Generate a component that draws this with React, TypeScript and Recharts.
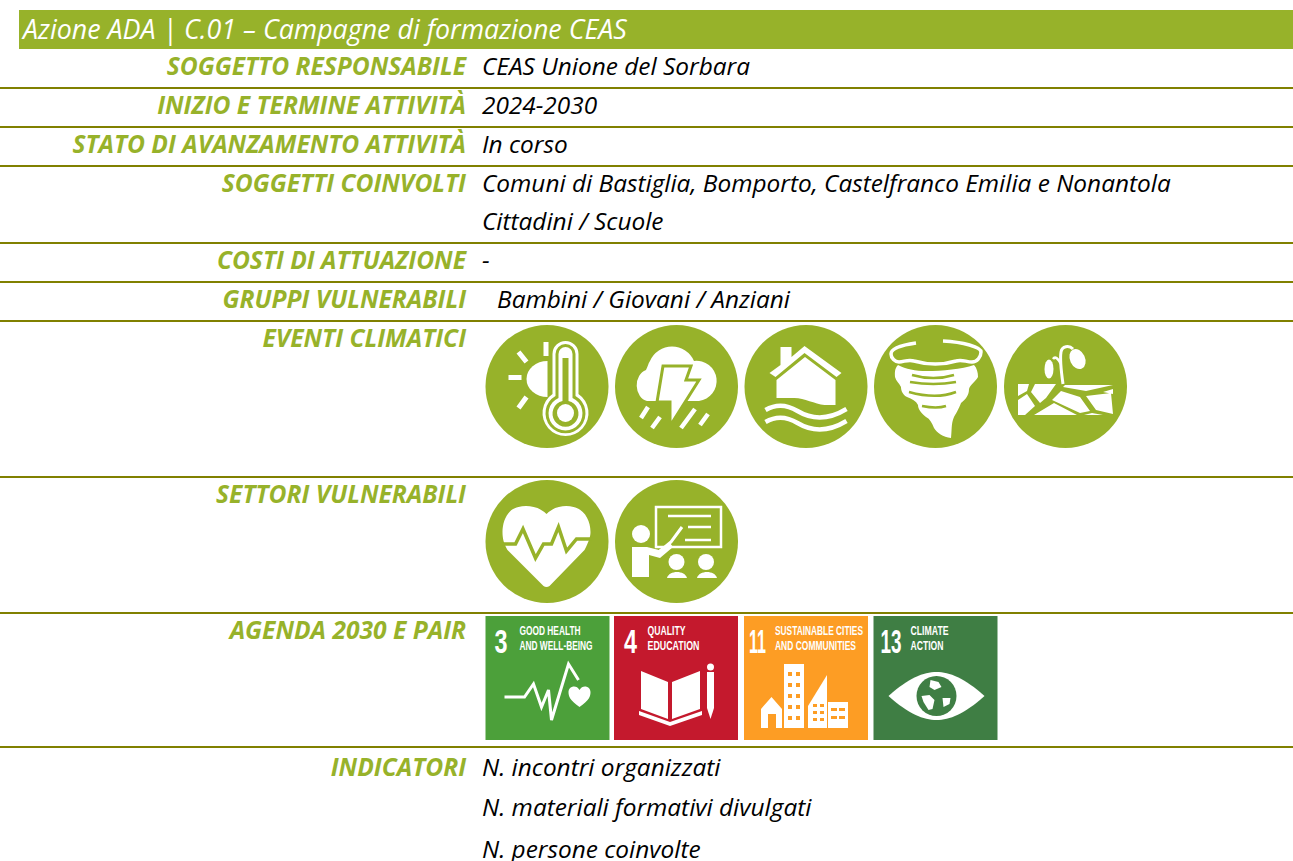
import React from 'react';
import { ComposedChart, XAxis, YAxis, Scatter, ReferenceArea, ReferenceLine } from 'recharts';

const title = 'Azione ADA | C.01 – Campagne di formazione CEAS';
const rowLabels = [
  'SOGGETTO RESPONSABILE',
  'INIZIO E TERMINE ATTIVITÀ',
  'STATO DI AVANZAMENTO ATTIVITÀ',
  'SOGGETTI COINVOLTI',
  'COSTI DI ATTUAZIONE',
  'GRUPPI VULNERABILI',
  'EVENTI CLIMATICI',
  'SETTORI VULNERABILI',
  'AGENDA 2030 E PAIR',
  'INDICATORI',
];
const rowValues = [
  'CEAS Unione del Sorbara',
  '2024-2030',
  'In corso',
  'Comuni di Bastiglia, Bomporto, Castelfranco Emilia e Nonantola',
  'Cittadini / Scuole',
  '-',
  'Bambini / Giovani / Anziani',
  'N. incontri organizzati',
  'N. materiali formativi divulgati',
  'N. persone coinvolte',
];
const climateIcons = ['heat', 'storm', 'flood', 'tornado', 'drought'];
const sectorIcons = ['health', 'education'];
const sdgNumbers = ['3', '4', '11', '13'];
const sdgTitles = [
  ['GOOD HEALTH', 'AND WELL-BEING'],
  ['QUALITY', 'EDUCATION'],
  ['SUSTAINABLE CITIES', 'AND COMMUNITIES'],
  ['CLIMATE', 'ACTION'],
];
const sdgIcons = ['pulse', 'book', 'city', 'eye'];

// page layout, in pixels of the picture
const W = 1293;
const H = 861;
const labelY = [67, 106, 145, 184, 261, 300, 339, 495, 631, 768];
const valueY = [67, 106, 145, 184, 222, 261, 300, 768, 808, 850];
const valueX = [482, 482, 482, 482, 482, 482, 497, 482, 482, 482];
const ruleY = [88, 127, 166, 243, 282, 321, 477, 613, 747];
const iconX = [547, 676.5, 806, 935.5, 1065.5];
const sdgX = [547.5, 676, 806, 935.5];
const sdgColors = ['#4ca03a', '#c4192d', '#fd9d24', '#3f7e44'];
const sdgNumberBox = [[9, 13], [10, 13], [5, 17], [7, 21]];
const sdgTextX = [34, 33.5, 31, 37];
const sdgTextWidths = [[61, 73], [38, 52], [88, 81], [38, 33]];

const GREEN = '#97b22a';
const OLIVE = '#808000';
const FONT = "'Open Sans', sans-serif";
const TILE_FONT = "'Liberation Sans Narrow', 'Liberation Sans', sans-serif";

const titleData = [{ x: 23, y: 30, text: title }];
const labelData = rowLabels.map((text, i) => ({ x: 466, y: labelY[i], text }));
const valueData = rowValues.map((text, i) => ({ x: valueX[i], y: valueY[i], text }));
const climateData = climateIcons.map((icon, i) => ({ x: iconX[i], y: 386.5, icon }));
const sectorData = sectorIcons.map((icon, i) => ({ x: iconX[i], y: 541.5, icon }));
const sdgData = sdgNumbers.map((num, i) => ({
  x: sdgX[i], y: 678, i, num, lines: sdgTitles[i], icon: sdgIcons[i], color: sdgColors[i],
}));

const Title = ({ cx, cy, payload }: any) => (
  <text x={cx} y={cy + 8.5} fontFamily={FONT} fontStyle="italic" fontSize={26.8} fill="#fff">
    {payload.text}
  </text>
);

const Label = ({ cx, cy, payload }: any) => (
  <text x={cx} y={cy + 8} textAnchor="end" fontFamily={FONT} fontStyle="italic" fontWeight={700} fontSize={24.6} fill={GREEN}>
    {payload.text}
  </text>
);

const Value = ({ cx, cy, payload }: any) => (
  <text x={cx} y={cy + 8} fontFamily={FONT} fontStyle="italic" fontSize={24.4} fill="#000">
    {payload.text}
  </text>
);

const glyphs: Record<string, React.ReactNode> = {
  heat: (
    <g>
      <path d="M62 36a21 18 0 0 0 0 36z" fill="#fff" />
      <path d="M58 17h5v14h-5zM23 50h13v5H23z" fill="#fff" />
      <path d="M33 27l8 10M41 72l-8 11" stroke="#fff" strokeWidth={5} />
      <path d="M67 69V29a13 13 0 0 1 26 0v40a23 23 0 1 1-26 0z" fill="#fff" />
      <path d="M70 71V29a10 10 0 0 1 20 0v42a20 20 0 1 1-20 0z" fill={GREEN} />
      <path d="M73 73V29a7 7 0 0 1 14 0v44a17 17 0 1 1-14 0z" fill="#fff" />
      <path d="M77 76V33h6v43a13 13 0 1 1-6 0z" fill={GREEN} />
      <ellipse cx={80} cy={88} rx={8.500} ry={9} fill="#fff" />
    </g>
  ),
  storm: (
    <g>
      <path d="M32 76a13 16 0 0 1-1-31c2-4 2-6 4-9a24 24 0 0 1 44 0 20 20 0 0 1 5 40z" fill="#fff" />
      <path d="M48 41h28l-5 14h13L55 101V77H42z" fill="#fff" stroke={GREEN} strokeWidth={3} />
      <path d="M33 82l-7 11M45 92l-8 11M80 84l-14 19M93 89l-8 11" stroke="#fff" strokeWidth={4.500} />
    </g>
  ),
  flood: (
    <g>
      <path d="M25 48l11-8V22h11v10l13-11 37 27-5 4-32-24-29 24z" fill="#fff" />
      <path d="M32 55L60.500 32 91 55v25h-11c-10-1-20-7-30-7H32z" fill="#fff" />
      <path d="M21 85c12-7 22-5 32 1s26 12 49-2M21 97c12-7 22-5 32 1s26 12 49-2" stroke="#fff" strokeWidth={4.500} fill="none" />
    </g>
  ),
  tornado: (
    <g>
      <path d="M42 18C28 20 17 23 17 29c0 4 4 8 8 8 5 0 9-3 15-1 14 4 29 4 42 0 6-2 10 1 16 1 5 0 9-5 9-10 0-5-18-10-38-11" stroke="#fff" strokeWidth={3.500} fill="none" />
      <path d="M24 40c-4 4-3 9-3 12 1 4 4 6 6 10 0 4 2 8 6 10 5 2 9 4 11 8 0 4 3 8 8 12 4 2 6 6 8 11 3 5 9 9 17 10 1-8 0-14 3-21 3-5 6-11 7-14 5-4 8-8 8-14 1-4 7-8 9-12 0-4-1-9-4-12-12 4-32 6-47 6-12 0-21-2-29-6z" fill="#fff" />
      <path d="M38 50c14 4 29 4 42 0M36 57c17 3 30 3 46 0M35 67c18 5 34 5 47 0M48 81c10 2 18 2 24 0" stroke={GREEN} strokeWidth={2.500} fill="none" />
    </g>
  ),
  drought: (
    <g>
      <path d="M59 59c-2-14-3-26-2-32 1-6 8-7 12-3" stroke="#fff" strokeWidth={3} fill="none" />
      <path d="M57 39c-3-6-6-8-8-5" stroke="#fff" strokeWidth={2.500} fill="none" />
      <ellipse cx={73.500} cy={34} rx={7.500} ry={10.500} transform="rotate(-25 73.500 34)" fill="#fff" />
      <ellipse cx={45} cy={44} rx={4.500} ry={9.500} fill="#fff" />
      <path d="M14 59h11l-2 7-9 5zM14 75l9-6 8 12-10 9h-7zM31 59h21L42 73l-6 5-9-11zM30 90l20-12 23 12zM61 60h48l-27 6-23-4zM57 66l19 6 10 14-10 2-28-13zM82 71l25-3 2 21-17-4zM99 67l10-3v5zM80 90h19l-11-2z" fill="#fff" />
    </g>
  ),
  health: (
    <g>
      <path d="M61 34C53 26 41 25 33 27 22 29 17 41 17 52c0 6 1 11 5 18l36 36q3 2 6 0l35-36c4-8 6-13 6-18 0-11-6-23-17-25C80 25 69 26 61 34z" fill="#fff" />
      <path d="M15 64h15l7.500-15L50 78l8-14h8l7-17 8 24 10-12h16" stroke={GREEN} strokeWidth={3.500} fill="none" />
    </g>
  ),
  education: (
    <g>
      <rect x={41} y={27} width={65} height={40} fill="none" stroke="#fff" strokeWidth={2.500} />
      <path d="M53 36h43M73 47h23M70 60h26" stroke="#fff" strokeWidth={2.500} />
      <path d="M67 47l-11 15-11 9" stroke="#fff" strokeWidth={3} fill="none" />
      <circle cx={26} cy={54} r={9} fill="#fff" />
      <path d="M17 67h15l12 3 11-7 3 4-13 11-11-3v22H17z" fill="#fff" />
      <circle cx={61.500} cy={82} r={8} fill="#fff" />
      <circle cx={91} cy={82} r={8} fill="#fff" />
      <path d="M52 98c2-8 18-8 20 0zM82 98c2-8 18-8 20 0z" fill="#fff" />
    </g>
  ),
};

const Medallion = ({ cx, cy, payload }: any) => (
  <g transform={`translate(${cx - 61.5} ${cy - 61.5})`}>
    <circle cx={61.5} cy={61.5} r={61.5} fill={GREEN} />
    {glyphs[payload.icon]}
  </g>
);

const sdgGlyphs: Record<string, React.ReactNode> = {
  pulse: <g>
    <path d="M19 81h20l9-13 8 23 7-17 3 30 17-56 10 16" stroke="#fff" strokeWidth={3} fill="none" />
    <path d="M94 91C84 84 83 80 83 76c0-6 8-8 11-2 3-6 11-4 11 2 0 4-1 8-11 15z" fill="#fff" />
  </g>,
  book: <g>
    <path d="M27 55l27 11v37L27 93zM86 55L58 66v37l28-10z" fill="#fff" />
    <path d="M25 95l31 11 32-11v4l-32 11-31-11z" fill="#fff" />
    <path d="M93 56h7v36l-3.500 11-3.500-11z" fill="#fff" />
    <circle cx={96.500} cy={51} r={3.500} fill="#fff" />
  </g>,
  city: <g>
    <path d="M17 93l10.500-12L38 93v19h-6V98h-8v14h-7z" fill="#fff" />
    <rect x={40} y={48} width={20} height={64} fill="#fff" />
    <path d="M64 112V90l19-31v53z" fill="#fff" />
    <rect x={84} y={86} width={20} height={26} fill="#fff" />
    <path d="M44 56h4v4h-4zM52 56h4v4h-4zM44 67h4v4h-4zM52 67h4v4h-4zM44 78h4v4h-4zM52 78h4v4h-4zM44 89h4v4h-4zM52 89h4v4h-4zM44 100h4v4h-4zM52 100h4v4h-4zM69 88h4v3h-4zM76 88h4v3h-4zM69 95h4v3h-4zM76 95h4v3h-4zM69 102h4v3h-4zM76 102h4v3h-4zM87 92h6v3h-6zM95 92h6v3h-6zM87 100h6v3h-6zM95 100h6v3h-6z" fill="#fd9d24" />
  </g>,
  eye: <g>
    <path d="M15 80c20-18 35-24 48-24s28 6 48 24c-20 18-35 24-48 24s-28-6-48-24z" fill="#fff" />
    <circle cx={63} cy={80} r={20} fill="#3f7e44" />
    <path d="M57 64l8 2 3 5-7 3-5-3zM48 80l8-1 5 5-2 9-4 1-5-8zM69 82l8 0-1 6-6 3z" fill="#fff" />
  </g>,
};

const SdgTile = ({ cx, cy, payload }: any) => {
  const [numX, numWidth] = sdgNumberBox[payload.i];
  return (
    <g transform={`translate(${cx - 62} ${cy - 62})`}>
      <rect width={124} height={124} fill={payload.color} />
      <text x={numX} y={37} fontFamily={TILE_FONT} fontWeight={700} fontSize={33} fill="#fff"
        textLength={numWidth} lengthAdjust="spacingAndGlyphs">
        {payload.num}
      </text>
      {payload.lines.map((line: string, n: number) => (
        <text key={line} x={sdgTextX[payload.i]} y={19 + n * 15} fontFamily={TILE_FONT} fontWeight={700} fontSize={12} fill="#fff"
          textLength={sdgTextWidths[payload.i][n]} lengthAdjust="spacingAndGlyphs">
          {line}
        </text>
      ))}
      {sdgGlyphs[payload.icon]}
    </g>
  );
};

export default function App() {
  return (
    <div style={{ position: 'absolute', left: 0, top: 0, width: W, height: H, background: '#fff', overflow: 'hidden' }}>
      <ComposedChart width={W} height={H} margin={{ top: 0, right: 0, bottom: 0, left: 0 }}>
        <XAxis type="number" dataKey="x" domain={[0, W]} hide allowDataOverflow />
        <YAxis type="number" dataKey="y" domain={[0, H]} reversed hide allowDataOverflow />
        <ReferenceArea x1={19} x2={W} y1={10} y2={49} fill={GREEN} fillOpacity={1} stroke="none" />
        {ruleY.map((y) => (
          <ReferenceLine key={y} y={y} segment={[{ x: 8, y }, { x: W, y }]} stroke={OLIVE} strokeWidth={2} />
        ))}
        <ReferenceArea x1={482} x2={1000} y1={613} y2={616} fill="#fff" fillOpacity={1} stroke="none" />
        <Scatter data={titleData} shape={Title} isAnimationActive={false} />
        <Scatter data={labelData} shape={Label} isAnimationActive={false} />
        <Scatter data={valueData} shape={Value} isAnimationActive={false} />
        <Scatter data={climateData} shape={Medallion} isAnimationActive={false} />
        <Scatter data={sectorData} shape={Medallion} isAnimationActive={false} />
        <Scatter data={sdgData} shape={SdgTile} isAnimationActive={false} />
      </ComposedChart>
    </div>
  );
}
